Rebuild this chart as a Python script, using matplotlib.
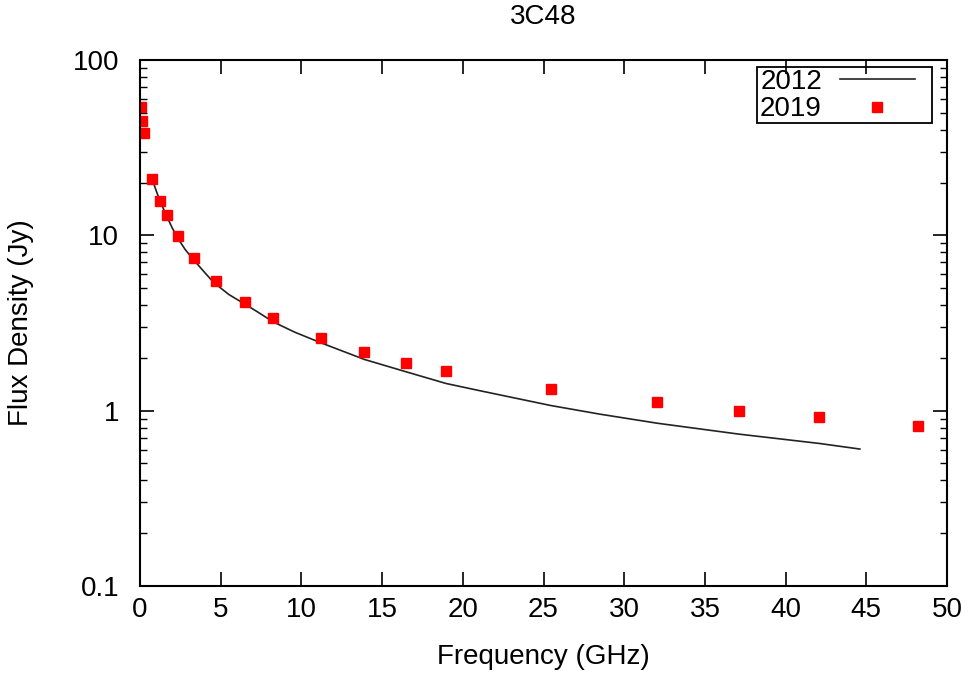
import numpy as np
import matplotlib
matplotlib.use("Agg")
from matplotlib import pyplot as plt
from matplotlib.patches import Rectangle

plt.rcParams['font.family'] = ['Liberation Sans', 'DejaVu Sans']

# 2012 model curve
freq_2012 = [0.75, 1.0, 1.25, 1.65, 2.0, 2.35, 2.8, 3.35, 4.0, 4.55, 5.5, 6.5, 7.3, 8.25,
             9.6, 11.2, 13.9, 16.45, 18.95, 21.05, 25.45, 28.5, 32.05, 37.1, 42.1, 44.6]
flux_2012 = [21.0, 18.0, 15.6, 12.9, 11.0, 9.6, 8.3, 7.2, 6.15, 5.4, 4.6, 4.05, 3.65, 3.21,
             2.8, 2.44, 1.96, 1.67, 1.43, 1.30, 1.07, 0.955, 0.848, 0.735, 0.650, 0.604]

# 2019 measurements
freq_2019 = [0.07, 0.15, 0.25, 0.76, 1.25, 1.65, 2.35, 3.35, 4.7, 6.5, 8.25, 11.2,
             13.9, 16.45, 18.95, 25.45, 32.05, 37.1, 42.1, 48.2]
flux_2019 = [53.7, 44.9, 38.5, 21.0, 15.8, 13.1, 9.95, 7.39, 5.51, 4.16, 3.37, 2.58,
             2.15, 1.88, 1.68, 1.33, 1.12, 1.00, 0.916, 0.82]

fs = 20
W, H = 969, 674

fig = plt.figure(figsize=(W/100, H/100), dpi=100)
ax = fig.add_axes([140/W, 1-586/H, (947-140)/W, (586-60)/H])

ax.plot(freq_2012, flux_2012, color='#222222', lw=1.2, label='2012')
ax.plot(freq_2019, flux_2019, ls='none', marker='s', ms=6.5, color='red',
        mec='red', label='2019')

ax.set_yscale('log')
ax.set_xlim(0, 50)
ax.set_ylim(0.1, 100)
ax.set_xticks(np.arange(0, 51, 5))
ax.set_yticks([0.1, 1, 10, 100])
ax.set_yticklabels(['0.1', '1', '10', '100'])
ax.tick_params(which='both', direction='in', top=True, right=True, labelsize=fs)
ax.tick_params(which='major', length=10, width=1.2)
ax.tick_params(axis='x', which='major', pad=8)
ax.tick_params(axis='y', which='major', pad=15)
ax.tick_params(which='minor', length=5, width=1.0)
for s in ax.spines.values():
    s.set_linewidth(1.5)

fig.text(543/W, 1-657/H, 'Frequency (GHz)', fontsize=fs, ha='center', va='center')
fig.text(21/W, 1-323/H, 'Flux Density (Jy)', fontsize=fs, ha='center', va='center',
         rotation=90)
fig.text(543/W, 1-17/H, '3C48', fontsize=fs, ha='center', va='center')

# legend: gnuplot style, text first, box drawn by hand
leg = ax.legend(loc='upper left', bbox_to_anchor=(760/W, 1-69/H),
                bbox_transform=fig.transFigure, markerfirst=False, frameon=False,
                fontsize=fs, handlelength=2.7, borderpad=0, labelspacing=0.05,
                handletextpad=0.65, borderaxespad=0)
fig.patches.append(Rectangle((757/W, 1-123/H), 175/W, 56/H, transform=fig.transFigure,
                             fill=False, edgecolor='black', lw=1.3, zorder=5))

fig.savefig('out.png', dpi=100)
